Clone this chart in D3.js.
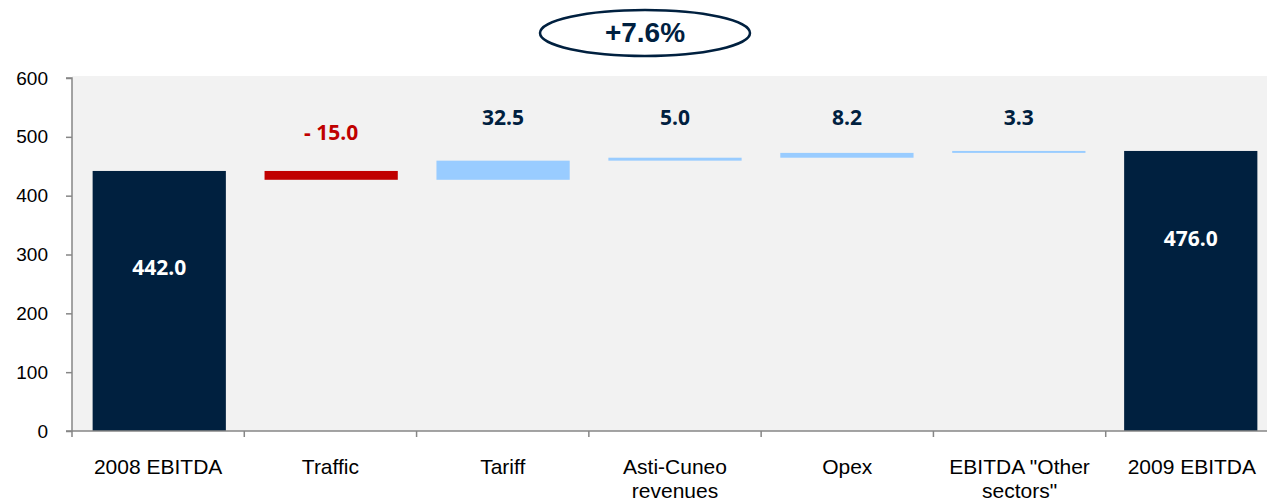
<!DOCTYPE html>
<html><head><meta charset="utf-8">
<script src="https://cdn.jsdelivr.net/npm/d3@7"></script>
<style>body{margin:0;background:#fff;}svg{display:block;}</style>
</head><body>
<svg id="c" width="1267" height="504"></svg>
<script>
const categories = ["2008 EBITDA","Traffic","Tariff","Asti-Cuneo revenues","Opex","EBITDA \"Other sectors\"","2009 EBITDA"];
const labelLines = [["2008 EBITDA"],["Traffic"],["Tariff"],["Asti-Cuneo","revenues"],["Opex"],["EBITDA \"Other","sectors\""],["2009 EBITDA"]];
const values = [442.0, -15.0, 32.5, 5.0, 8.2, 3.3, 476.0];
const kinds = ["total","delta","delta","delta","delta","delta","total"];
const valueLabels = ["442.0","- 15.0","32.5","5.0","8.2","3.3","476.0"];
const yTicks = [0,100,200,300,400,500,600];
const growthLabel = "+7.6%";

(function(){
const svg = d3.select("#c");
const pL = 72, pR = 1278, pT = 78, pB = 431;
const x = d3.scaleBand().domain(categories).range([pL, pR]).paddingInner(0.225).paddingOuter(0.12);
const xb = d3.scaleBand().domain(categories).range([pL, pR]);
const y = d3.scaleLinear().domain([0, 600]).range([pB, pT]);

svg.append("rect").attr("x", pL).attr("y", 76).attr("width", 1267 - pL).attr("height", pB - 76).attr("fill", "#F2F2F2");

let run = 0;
const segs = values.map((v, i) => {
  let y0, y1;
  if (kinds[i] === "total") { y0 = 0; y1 = v; run = v; }
  else { y0 = run; y1 = run + v; run = y1; }
  return {cat: categories[i], v, y0, y1, kind: kinds[i], label: valueLabels[i]};
});

svg.selectAll("rect.bar").data(segs).enter().append("rect")
  .attr("class", "bar")
  .attr("x", d => x(d.cat))
  .attr("width", x.bandwidth())
  .attr("y", d => y(Math.max(d.y0, d.y1)))
  .attr("height", d => Math.abs(y(d.y0) - y(d.y1)))
  .attr("fill", d => d.kind === "total" ? "#00203F" : (d.v < 0 ? "#C00000" : "#99CCFF"));

const yAxis = d3.axisLeft(y).tickValues(yTicks).tickSize(6).tickPadding(18);
const gy = svg.append("g").attr("transform", `translate(${pL},0)`).call(yAxis);
gy.select(".domain").attr("stroke", "#868686").attr("stroke-width", 1.5).attr("d", `M-6,${pB}H0V${pT}H-6`);
gy.selectAll(".tick line").attr("stroke", "#868686").attr("stroke-width", 1.5);
gy.selectAll(".tick text").style("font-family", "Liberation Sans, Arial, sans-serif").style("font-size", "19px").attr("fill", "#000");

const gx = svg.append("g").attr("transform", `translate(0,${pB})`);
gx.append("line").attr("x1", pL).attr("x2", 1267).attr("y1", 0).attr("y2", 0).attr("stroke", "#868686").attr("stroke-width", 1.5);
const boundaries = categories.map(c => xb(c)).concat([pR]);
gx.selectAll("line.t").data(boundaries).enter().append("line")
  .attr("x1", d => d).attr("x2", d => d).attr("y1", 0).attr("y2", 6)
  .attr("stroke", "#868686").attr("stroke-width", 1.5);
const xl = gx.selectAll("text.xl").data(categories).enter().append("text")
  .attr("text-anchor", "middle")
  .style("font-family", "Liberation Sans, Arial, sans-serif").style("font-size", "21px").attr("fill", "#000");
xl.each(function(d, i) {
  const t = d3.select(this);
  labelLines[i].forEach((ln, j) => t.append("tspan").attr("x", xb(d) + xb.bandwidth() / 2).attr("y", 43 + j * 24).text(ln));
});

svg.selectAll("text.vl").data(segs).enter().append("text")
  .attr("x", d => x(d.cat) + x.bandwidth() / 2)
  .attr("y", d => {
    if (d.kind === "total") return y(d.v) + (d.v > 460 ? 95 : 104);
    return d.v < 0 ? 140 : 125;
  })
  .attr("text-anchor", "middle")
  .style("font-family", "Open Sans, Noto Sans, sans-serif").style("font-weight", "bold").style("font-size", "21px")
  .attr("fill", d => d.kind === "total" ? "#FFFFFF" : (d.v < 0 ? "#C00000" : "#00203F"))
  .text(d => d.label);

svg.append("ellipse").attr("cx", 645).attr("cy", 33).attr("rx", 105).attr("ry", 23)
  .attr("fill", "#fff").attr("stroke", "#00203F").attr("stroke-width", 2.5);
svg.append("text").attr("x", 645).attr("y", 42).attr("text-anchor", "middle")
  .style("font-family", "Liberation Sans, Arial, sans-serif").style("font-weight", "bold").style("font-size", "28px")
  .attr("fill", "#00203F").text(growthLabel);
})();
</script>
</body></html>
